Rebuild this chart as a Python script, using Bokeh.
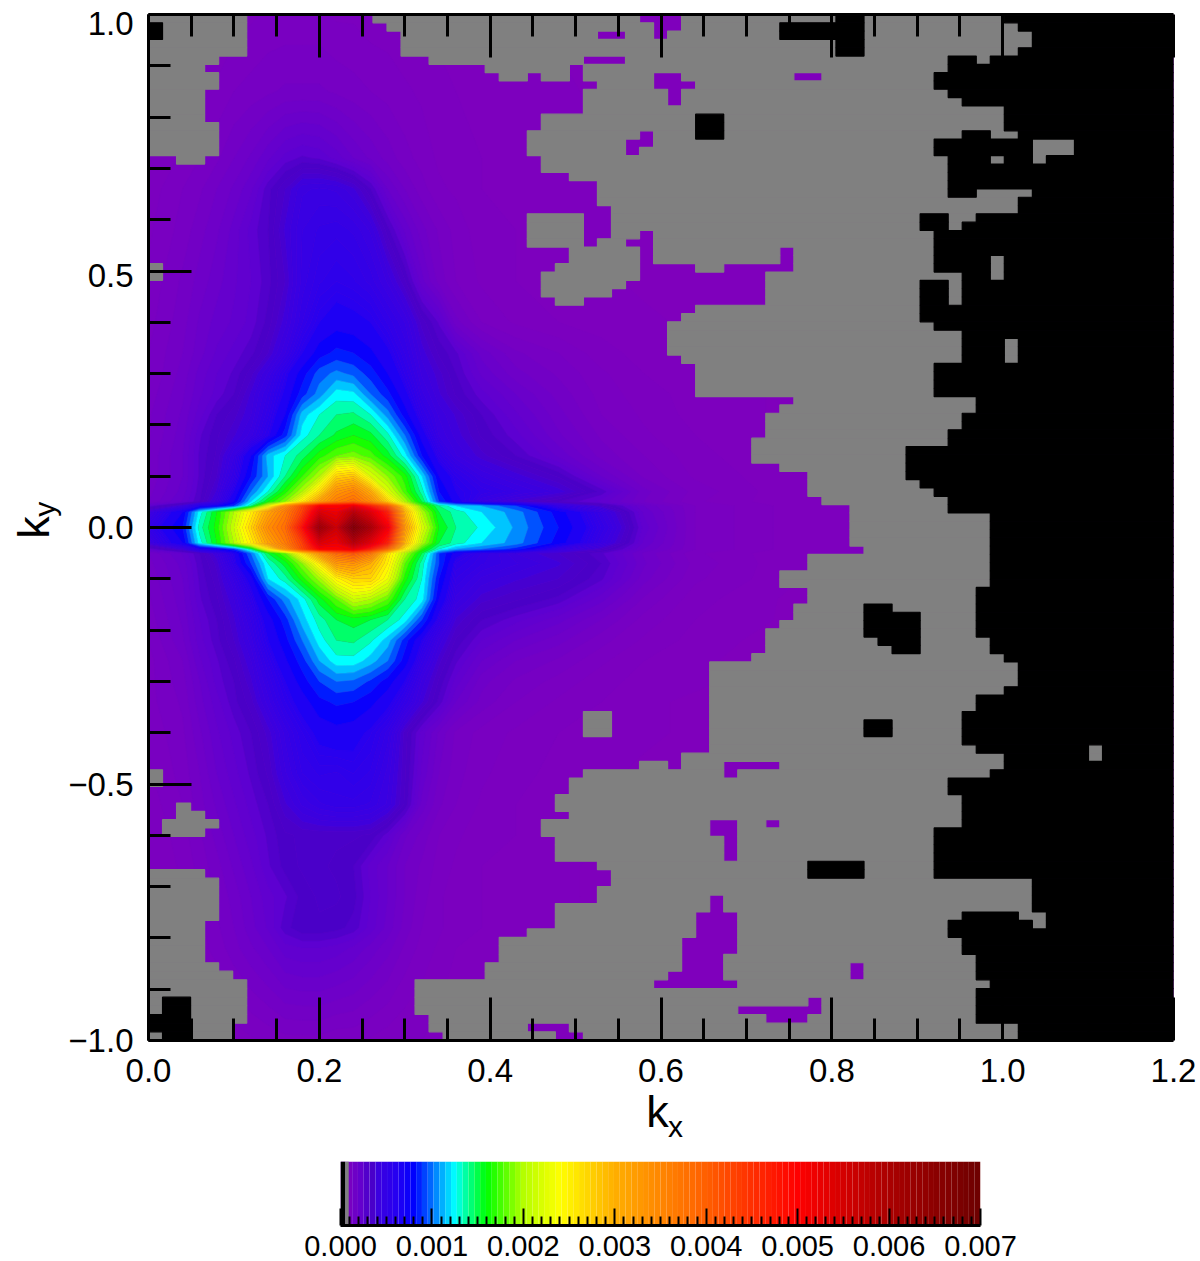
from math import pi
import numpy as np
from bokeh.plotting import figure
from bokeh.layouts import column
from bokeh.models import FixedTicker, LinearAxis, Range1d
from bokeh.embed import file_html
from bokeh.resources import INLINE

FONT = "Liberation Sans"
# spectral density on a coarse grid, in units of 1e-4
kx_grid = [0,.04,.06,.08,.10,.12,.14,.16,.18,.20,.22,.24,.26,.28,.30,.32,.34,.36,.39,.43,.48,.53,.58,.64,.75,1.2]
ky_grid = [1,.85,.72,.66,.58,.48,.40,.34,.30,.26,.22,.18,.14,.10,.07,.05,.042,.03,0,-.03,-.042,-.05,-.07,-.10,-.14,-.18,-.22,-.26,-.30,-.34,-.40,-.48,-.54,-.60,-.66,-.72,-.78,-.82,-1]
z_p100 = [.2,.3,.4,.5,.6,.7,.8,.8,.8,.8,.7,.7,.6,.6,.5,.5,.4,.4,.3,.3,.2,.2,.1,.1,.1,0]
z_p085 = [.3,.5,.7,.8,1,1.1,1.2,1.3,1.3,1.3,1.2,1.1,1,.9,.8,.7,.6,.5,.4,.3,.3,.2,.2,.1,.1,0]
z_p072 = [.5,.8,1,1.2,1.5,1.8,2.2,2.6,2.8,2.7,2.4,2,1.7,1.4,1.1,.9,.7,.6,.5,.4,.3,.3,.2,.1,.1,0]
z_p066 = [.6,1,1.2,1.5,1.8,2.2,2.9,3.5,4.2,4.3,4.2,3.8,3.0,2,1.5,1.1,.8,.7,.5,.4,.3,.3,.2,.1,.1,0]
z_p058 = [.7,1.1,1.4,1.7,2.1,2.6,3,3.8,4.5,4.8,4.9,4.7,4.2,3.1,2.2,1.6,1.2,.9,.6,.5,.4,.3,.2,.2,.1,0]
z_p048 = [.8,1.3,1.6,1.9,2.2,2.5,2.9,3.5,4.6,5.2,5.5,5.3,4.9,4.2,3.3,2.1,1.4,1,.7,.5,.4,.3,.2,.2,.1,0]
z_p040 = [.9,1.4,1.8,2.1,2.3,2.6,3.1,3.9,5,6,6.5,6.3,6,5.2,4.5,3.4,2.7,1.6,1,.7,.5,.4,.3,.2,.1,0]
z_p034 = [1,1.5,1.9,2.3,2.6,2.9,3.5,4.5,6,7.5,8.3,8,7.2,6.2,5,3.9,3.2,2.8,1.9,1.3,1,.6,.4,.3,.1,0]
z_p030 = [1,1.6,2.1,2.5,2.8,3.4,4.3,5.7,7.5,9.5,10.3,9.7,8.5,7,5.5,4.2,3.6,3,2.2,1.6,1.2,.8,.5,.3,.1,0]
z_p026 = [1.1,1.7,2.2,2.6,3,3.8,4.8,6.2,8.5,10.5,12.5,12.3,10,8.3,6.3,4.6,3.8,3.2,2.6,2,1.4,.9,.6,.4,.2,0]
z_p022 = [1.2,1.8,2.4,3,3.4,4,5.2,7,11.5,13,14,14.2,13,10.5,7.5,5.3,4.2,3.7,3,2.3,1.6,1,.7,.4,.2,0]
z_p018 = [1.2,1.9,2.7,3.2,3.7,4.4,5.8,8.5,12.5,14,15.2,16,15.3,13.3,10,6.5,4.5,3.9,3.2,2.6,1.8,1.2,.8,.5,.2,0]
z_p014 = [1.3,2,2.8,3.3,4.5,7,11.5,13,14.5,16.5,18,18.5,17.5,15.5,12.5,8,5.5,4.3,3.6,3,2.2,1.4,1,.6,.2,0]
z_p010 = [1.3,2,2.8,3.5,5,8,11,14,17,20,27,28,22,19,16.5,12,7,5.5,4.5,3.9,3.2,2,1.2,.7,.3,0]
z_p007 = [1.4,2.1,2.9,3.8,6,10,13,16.5,20,26,33,35,30,22,17.5,13.5,8,6,5.2,4.6,3.9,2.9,1.6,.9,.3,0]
z_p005 = [1.5,2.3,3,4.2,7,12,16,19,25,31,36,38,34,27,20,15,9,6.5,4.5,3.6,3,2.4,1.5,.8,.3,0]
z_p0042 = [2.5,4,6,7,9,14,22,33,42,50,50,52,46,40,26,18,14,12,11,9,5,3.5,2,1,.4,0]
z_p003 = [4,7,12.5,16,20,25,31,36,43,54,52,58,53,46,29,20,15,13.5,12,10.5,7.5,4.5,2.2,1,.4,0]
z_000 = [5,8,13.5,16.5,21,27,34,38,48,62,56,67,60,51,32,22,16,14,12.8,10.8,8,5,2.4,1,.4,0]
z_m003 = [4,7,12.5,16,20,25,31,36,43,54,52,58,53,46,29,20,15,13.5,12,10.5,7.5,4.5,2.2,1,.4,0]
z_m0042 = [2.5,4,6,7,9,14,24,33,42,50,50,52,46,38,25,17,13,11,10,8.5,5,3.5,2,1,.4,0]
z_m005 = [1.5,2.3,3,4,6,10,15,18,25,32,38,40,36,26,20,15,9,6.5,5,4,3.5,2.8,1.7,.8,.3,0]
z_m007 = [1.4,2.1,2.9,3.6,5.5,9,13,15.5,19,25,32,33,30,25,18,13.5,9,5.5,4.8,4.3,3.8,3,1.8,.9,.3,0]
z_m010 = [1.3,2,2.8,3.4,4.6,6.5,12,13.5,16.5,19.5,24.5,27,27,23,16.5,13,8,5,4.2,3.8,3.5,2.8,1.6,.8,.3,0]
z_m014 = [1.2,1.9,2.7,3.2,4,5.4,8,10.5,12.5,15.5,18,21,20,18,14,12.5,7,4.4,3.6,3.3,2.9,2.1,1.2,.6,.2,0]
z_m018 = [1.1,1.8,2.5,3,3.7,4.8,6.5,8.5,11.5,13.5,15,15.5,15,14,12.5,9,5.5,3.7,3,2.6,2.1,1.5,.9,.5,.2,0]
z_m022 = [1,1.7,2.4,2.9,3.5,4.4,6,7.6,10,12.5,14,14.2,13.2,11.5,8.5,6,4.2,3.2,2.5,2,1.6,1.1,.7,.4,.1,0]
z_m026 = [.9,1.5,2.2,2.7,3.2,4,5.3,6.8,8.5,11,12.6,12.6,11.5,10,7.5,5,3.6,2.8,2,1.5,1.2,.8,.5,.3,.1,0]
z_m030 = [.9,1.4,2,2.6,3,3.7,4.8,6,7.5,9,10,9.8,8.8,7.5,6,4.2,3.2,2.4,1.6,1.2,.9,.6,.4,.3,.1,0]
z_m034 = [.9,1.3,1.9,2.4,2.9,3.4,4.4,5.5,6.5,7.7,8.2,8,7.3,6.3,5,3.8,2.9,2,1.4,1,.7,.5,.3,.2,.1,0]
z_m040 = [.8,1.2,1.7,2.2,2.6,3,3.6,4.6,5.5,6.3,6.6,6.4,5.8,4.9,3.4,2.4,1.7,1.2,.9,.7,.5,.4,.3,.2,.1,0]
z_m048 = [.7,1.1,1.5,2,2.4,2.8,3.3,4.2,5,5.3,5.2,5.5,5.2,4.4,3.3,2.2,1.5,1.1,.8,.6,.4,.3,.2,.2,.1,0]
z_m054 = [.6,1,1.4,1.8,2.2,2.6,3,3.7,4.3,4.7,4.9,4.9,4.7,4.2,3.2,1.9,1.3,1,.7,.5,.4,.3,.2,.1,.1,0]
z_m060 = [.5,.9,1.2,1.6,2,2.4,2.8,3.2,3.3,3.3,3.3,3.3,3.2,2.6,1.8,1.4,1,.8,.6,.5,.3,.3,.2,.1,.1,0]
z_m066 = [.5,.8,1.1,1.4,1.8,2.2,2.7,3.1,3.3,3.3,3.2,3,2.4,2,1.5,1.2,.9,.7,.5,.4,.3,.2,.2,.1,.1,0]
z_m072 = [.5,.7,1,1.3,1.6,2,2.4,2.7,3.1,3.3,3.3,3.1,2.5,2,1.5,1.1,.8,.6,.5,.4,.3,.2,.2,.1,.1,0]
z_m078 = [.4,.7,.9,1.2,1.5,1.9,2.3,2.9,3.2,3.2,3.1,2.9,2.4,1.9,1.4,1,.8,.6,.5,.3,.3,.2,.2,.1,.1,0]
z_m082 = [.4,.6,.9,1.1,1.4,1.7,2,2.4,2.5,2.5,2.4,2.2,1.9,1.6,1.2,.9,.7,.5,.4,.3,.2,.2,.1,.1,.1,0]
z_m100 = [.2,.3,.4,.5,.6,.7,.8,.9,.9,.9,.8,.8,.7,.6,.5,.5,.4,.4,.3,.3,.2,.2,.1,.1,.1,0]
z_rows = [z_p100,z_p085,z_p072,z_p066,z_p058,z_p048,z_p040,z_p034,z_p030,z_p026,z_p022,z_p018,z_p014,z_p010,z_p007,z_p005,z_p0042,z_p003,z_000,
          z_m003,z_m0042,z_m005,z_m007,z_m010,z_m014,z_m018,z_m022,z_m026,z_m030,z_m034,z_m040,z_m048,z_m054,z_m060,z_m066,z_m072,z_m078,z_m082,z_m100]

# colour table: value (1e-4) to r, g, b
c_v = [0,1,2,2.7,3.0,3.5,3.9,6,8,10,12.5,14,16,20,24,30,40,50,60,70]
c_r = [128,120,104,92,74,74,62,40,0,0,0,0,0,180,255,255,255,255,170,110]
c_g = [0,0,0,0,0,0,0,0,0,110,255,255,255,255,255,175,95,0,0,0]
c_b = [188,194,204,210,198,202,222,240,255,255,255,140,0,0,0,0,0,0,0,0]

# data-quality mask on the 73 x 123 k-space cells
dkx = 0.016425
dky = 2 / 123
row_at = [0,60,84,102,115,123]
row_shift = [0,.004,.007,.008,.005,0]
purple_left = [7,7,7,7,7,5,4,5,5,4,4,4,4,5,5,5,5] + [0]*86 + [4,5,5,5,5,5,4,4,4,4,4,5,6,7,7,7,7,7,6,6]
purple_right = [16,17,18,18,18,20,24,25,32,31,31,31,28,28,27,27,27,28,28,30,32,32,32,33,33,33,33,32,30,30,29,28,28,28,29,
                39,38,37,37,37,37,38,39,39,39,39,46,45,44,44,44,43,43,43,45,47,47,47,48,50,50,50,50,50,51,47,47,45,45,47,47,46,46,45,
                44,44,44,43,40,40,40,40,40,40,40,40,40,40,40,38,35,31,30,30,29,29,30,28,28,29,29,29,32,33,33,32,32,29,29,29,27,25,25,25,24,24,19,19,19,19,20,20,21]
gray_end = [61,62,63,63,62,57,57,56,56,57,58,61,61,61,58,56,56,57,57,57,57,57,62,62,55,55,56,56,56,56,56,58,55,55,55,55,55,56,58,58,58,58,
            56,56,56,56,59,59,58,58,57,57,54,54,54,54,55,56,57,57,60,60,60,60,60,60,60,60,60,59,59,59,59,59,59,60,60,61,62,62,62,61,59,59,
            58,58,58,58,59,61,61,60,57,57,58,58,58,58,56,56,56,56,56,56,63,63,63,63,58,57,57,58,58,59,59,59,60,59,59,59,59,62,62]
# islands: first row, end row, first column, end column
purple_islands = [(0,1,35,38),(1,2,36,38),(2,3,36,37),(2,3,32,34),(5,6,31,34),(6,7,30,31),(7,8,27,28),(7,8,30,31),(7,8,46,48),(7,8,36,38),(8,9,36,39),
                  (9,11,37,38),(14,15,35,36),(15,16,34,36),(16,17,34,35),(26,30,35,36),(27,28,34,36),(28,30,45,46),(30,31,35,39),(30,31,41,46),
                  (31,32,35,44),(32,33,34,44),(33,34,33,44),(34,35,31,44),(90,91,37,38),(90,91,41,45),(91,92,41,42),(97,99,40,42),(99,102,41,42),
                  (97,98,44,45),(106,108,40,41),(108,111,39,42),(111,113,38,42),(113,115,38,41),(115,116,37,41),(116,117,36,42),(114,116,50,51),
                  (118,119,47,48),(119,120,42,48),(120,121,44,47),(121,122,27,30),(122,123,29,31)]
gray_islands = [(24,28,27,31),(84,87,31,33),(17,18,2,4),(30,32,0,1),(91,93,0,1),(95,96,2,3),(96,97,2,4),(97,98,1,5),(98,99,1,4),
                (5,6,59,60),(14,15,60,62),(15,17,63,66),(17,18,60,61),(17,18,63,64),(21,22,59,63),(24,25,57,59),(25,26,57,58),(29,32,60,61),
                (32,35,57,58),(39,42,61,62),(108,109,62,64),(109,110,63,64),(88,90,67,68)]
black_islands = [(1,3,0,1),(0,1,49,51),(1,3,45,51),(3,5,49,51),(12,15,39,41),(71,75,51,53),(72,77,53,55),(75,76,52,53),(85,87,51,53),(102,104,47,51),
                 (118,120,1,3),(120,122,0,3),(122,123,1,3)]

x_major = [0,.2,.4,.6,.8,1.0,1.2]
x_minor = [.05,.1,.15,.25,.3,.35,.45,.5,.55,.65,.7,.75,.85,.9,.95,1.05,1.1,1.15]
y_major = [-1,-.5,0,.5,1]
y_minor = [-.9,-.8,-.7,-.6,-.4,-.3,-.2,-.1,.1,.2,.3,.4,.6,.7,.8,.9]
y_labels = ["\u22121.0","\u22120.5","0.0","0.5","1.0"]
y_label_at = [-1,-.5,0,.492,.982]
cb_major = [0,.001,.002,.003,.004,.005,.006,.007]
cb_minor = [i / 10000 for i in range(71) if i % 10]

def colour(v):
    return "#%02x%02x%02x" % (int(np.interp(v,c_v,c_r)), int(np.interp(v,c_v,c_g)), int(np.interp(v,c_v,c_b)))

p = figure(width=1200, height=1145, frame_width=1025, frame_height=1026, x_range=Range1d(0,1.2), y_range=Range1d(-1,1), toolbar_location=None,
           output_backend="svg", min_border_left=148, min_border_right=27, min_border_top=14, min_border_bottom=100)
p.frame_align = False
p.grid.visible = False
p.outline_line_color = None
p.background_fill_color = "#7f00bc"

levels = [-.01] + [i * .25 for i in range(1, 24)] + [float(i) for i in range(6, 71)]
fills = [colour((a + b) / 2) for a, b in zip(levels[:-1], levels[1:])]
z = np.array(z_rows, dtype=float)[::-1]
p.contour(kx_grid, ky_grid[::-1], z, levels, fill_color=fills, line_color=fills + [fills[-1]], line_width=0.6)

grid = np.full((123, 74), 2)
for j in range(123):
    grid[j, :gray_end[j]] = 1
    grid[j, purple_left[j]:purple_right[j]] = 0
for (r0, r1, c0, c1) in purple_islands:
    grid[r0:r1, c0:c1] = 0
for (r0, r1, c0, c1) in gray_islands:
    grid[r0:r1, c0:c1] = 1
for (r0, r1, c0, c1) in black_islands:
    grid[r0:r1, c0:c1] = 2
def row_edge(j):
    return 1 - j * dky + np.interp(j, row_at, row_shift)
for cls, col in ((1, "#808080"), (2, "#000000")):
    L, R, T, B = [], [], [], []
    for j in range(123):
        c = 0
        while c < 74:
            if grid[j, c] == cls:
                e = c
                while e < 74 and grid[j, e] == cls:
                    e += 1
                L.append(c * dkx); R.append(min(e * dkx, 1.2)); T.append(row_edge(j)); B.append(row_edge(j + 1))
                c = e
            else:
                c += 1
    p.quad(left=L, right=R, top=T, bottom=B, fill_color=col, line_color=col, line_width=1.2)

def style(ax):
    ax.major_tick_in = 43; ax.major_tick_out = 0
    ax.minor_tick_in = 22; ax.minor_tick_out = 0
    ax.major_tick_line_color = "black"; ax.minor_tick_line_color = "black"
    ax.major_tick_line_width = 3; ax.minor_tick_line_width = 3
    ax.axis_line_color = "black"; ax.axis_line_width = 3

def bare(ax):
    ax.axis_line_color = None; ax.major_tick_line_color = None; ax.minor_tick_line_color = None
    ax.major_tick_in = 0; ax.major_tick_out = 0; ax.minor_tick_in = 0; ax.minor_tick_out = 0
    ax.major_label_text_font = FONT; ax.major_label_text_color = "black"

xa = p.xaxis[0]
xa.ticker = FixedTicker(ticks=x_major, minor_ticks=x_minor)
style(xa)
xa.major_label_overrides = {t: "%.1f" % t for t in x_major}
xa.major_label_text_font = FONT
xa.major_label_text_font_size = "33px"
xa.major_label_text_color = "black"
xa.major_label_standoff = 18
ya = p.yaxis[0]
ya.ticker = FixedTicker(ticks=y_major, minor_ticks=y_minor)
style(ya)
ya.major_label_text_color = None
ya.major_label_text_font_size = "1px"
ya.major_label_standoff = 0
ya.axis_label = "k"
ya.axis_label_text_font = FONT
ya.axis_label_text_font_style = "normal"
ya.axis_label_text_font_size = "45px"
ya.axis_label_text_color = "black"
ya.axis_label_standoff = 90
ta = LinearAxis(ticker=FixedTicker(ticks=x_major, minor_ticks=x_minor), major_label_text_color=None, major_label_text_font_size="1px")
style(ta)
p.add_layout(ta, "above")
ta.major_label_standoff = 0

ytl = LinearAxis(ticker=FixedTicker(ticks=y_label_at, minor_ticks=[]))
bare(ytl)
ytl.major_label_overrides = dict(zip(y_label_at, y_labels))
ytl.major_label_text_font_size = "33px"
ytl.major_label_standoff = -129
p.add_layout(ytl, "left")

kys = LinearAxis(ticker=FixedTicker(ticks=[.05], minor_ticks=[]))
bare(kys)
kys.major_label_overrides = {.05: "y"}
kys.major_label_orientation = pi / 2
kys.major_label_text_font_size = "30px"
kys.major_label_standoff = -40
p.add_layout(kys, "left")

kxa = LinearAxis(ticker=FixedTicker(ticks=[.596], minor_ticks=[]))
bare(kxa)
kxa.major_label_overrides = {.596: "k"}
kxa.major_label_text_font_size = "45px"
kxa.major_label_standoff = 1
p.add_layout(kxa, "below")

kxs = LinearAxis(ticker=FixedTicker(ticks=[.617], minor_ticks=[]))
bare(kxs)
kxs.major_label_overrides = {.617: "x"}
kxs.major_label_text_font_size = "30px"
kxs.major_label_standoff = -30
p.add_layout(kxs, "below")

cb = figure(width=1200, height=116, frame_width=640, frame_height=64, x_range=Range1d(0,.007), y_range=Range1d(0,1), toolbar_location=None, output_backend="svg",
            min_border_left=340, min_border_right=220, min_border_top=16, min_border_bottom=36)
cb.frame_align = False
cb.grid.visible = False
cb.outline_line_color = None
cb.yaxis.visible = False
edges = np.linspace(0, .007, 111)
cb.quad(left=edges[:-1], right=edges[1:], top=1, bottom=0, fill_color=[colour((a + b) / 2 * 1e4) for a, b in zip(edges[:-1], edges[1:])], line_color=None)
cb.quad(left=[0, .00005], right=[.00005, .00009], top=1, bottom=0, fill_color=["#000000", "#808080"], line_color=None)
ca = cb.xaxis[0]
ca.ticker = FixedTicker(ticks=cb_major, minor_ticks=cb_minor)
ca.major_tick_in = 17; ca.major_tick_out = 0; ca.minor_tick_in = 9; ca.minor_tick_out = 0
ca.major_tick_line_width = 2; ca.minor_tick_line_width = 2
ca.major_tick_line_color = "black"; ca.minor_tick_line_color = "black"
ca.axis_line_color = "black"; ca.axis_line_width = 3
ca.major_label_overrides = {t: "%.3f" % t for t in cb_major}
ca.major_label_text_font = FONT
ca.major_label_text_font_size = "29px"
ca.major_label_text_color = "black"
ca.major_label_standoff = 10

open("out.html", "w").write(file_html(column(p, cb, spacing=0), INLINE))
